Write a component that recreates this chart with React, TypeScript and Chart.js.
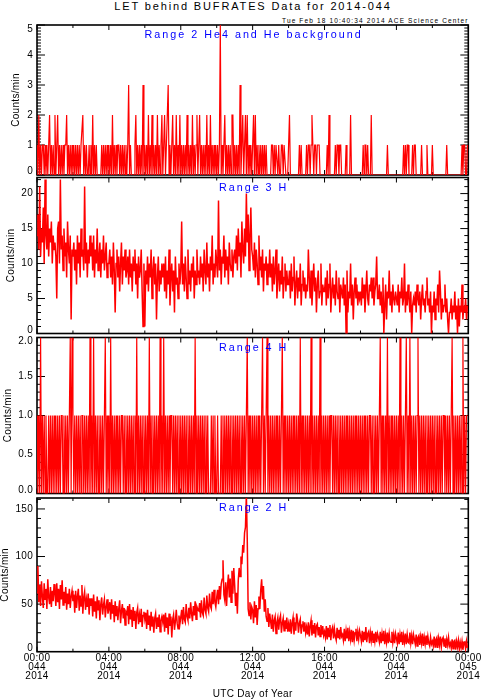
import { useEffect, useRef } from 'react';
import { Chart, registerables } from 'chart.js';

Chart.register(...registerables);

// ---------- data (3-minute samples, 20 per hour, one row per hour) ----------
const SAMPLE_MINUTES = 3;

const X_TICKS = [0, 240, 480, 720, 960, 1200, 1440];
const X_TICK_LABELS = [
  ['00:00', '044', '2014'],
  ['04:00', '044', '2014'],
  ['08:00', '044', '2014'],
  ['12:00', '044', '2014'],
  ['16:00', '044', '2014'],
  ['20:00', '044', '2014'],
  ['00:00', '045', '2014'],
];

const PANEL_LABELS = ['Range 2 He4 and He background', 'Range 3 H', 'Range 4 H', 'Range 2 H'];

const Y_TICKS_HE4 = [0, 1, 2, 3, 4, 5];
const Y_TICKS_R3H = [0, 5, 10, 15, 20];
const Y_TICKS_R4H = [0, 0.5, 1, 1.5, 2];
const Y_TICKS_R2H = [0, 50, 100, 150];

const HE4_BG = [
  1,0,2,0,1,0,1,1,0,1,0,1,0,1,2,0,1,0,1,0,
  2,0,1,2,0,1,0,1,0,1,0,1,1,2,0,1,0,1,0,1,
  0,1,0,1,0,1,0,1,0,1,1,2,0,1,0,1,0,0,1,0,
  1,0,2,0,1,0,1,0,0,0,0,0,1,0,1,0,1,0,1,0,
  1,0,1,0,2,0,1,0,1,0,1,1,0,1,0,1,0,1,0,1,
  0,1,3,0,1,0,0,0,0,1,2,0,1,0,1,0,1,0,3,0,
  1,0,1,0,2,0,1,0,2,0,1,0,1,0,2,0,1,0,1,2,
  0,1,2,0,1,2,3,0,1,0,1,2,0,1,0,2,0,1,0,2,
  0,1,0,1,0,1,0,2,0,1,0,1,0,2,0,1,0,1,2,0,
  1,2,0,1,0,1,0,1,0,2,0,1,0,2,0,1,0,1,0,1,
  0,1,0,1,5,0,1,0,1,2,0,1,0,1,0,1,0,2,2,0,
  1,0,1,0,1,0,3,0,1,2,0,1,2,0,2,0,1,0,1,0,
  1,2,0,2,0,1,0,1,0,1,0,1,0,1,0,1,0,0,0,0,
  0,1,1,0,1,0,1,1,0,1,0,0,1,1,0,1,1,0,0,0,
  1,2,0,0,0,0,0,0,0,0,0,0,1,0,1,0,0,0,0,0,
  1,0,1,1,0,1,2,1,0,1,1,0,1,1,1,0,0,0,0,0,
  0,0,0,1,0,2,0,0,0,0,0,0,1,0,1,1,0,1,1,0,
  0,0,0,0,1,0,0,0,0,2,0,0,0,0,0,0,0,0,0,0,
  0,0,0,1,0,1,1,0,1,0,0,0,2,0,0,0,0,0,0,0,
  0,0,0,0,0,0,0,0,0,0,1,0,0,0,0,0,0,0,0,0,
  0,0,0,0,0,0,0,0,1,0,1,0,1,1,0,0,0,0,1,0,
  1,1,0,0,0,0,0,0,1,0,0,0,0,0,1,0,0,0,0,0,
  1,0,0,0,0,0,0,0,0,0,0,0,0,0,0,0,1,0,0,0,
  0,0,0,0,0,0,0,0,0,0,0,0,0,1,0,1,1,0,0,1,
];

const RANGE3_H = [
  14,17,12,21,11,15,13,18,10,22,14,12,17,11,15,13,16,10,14,12,
  13,11,5,15,16,10,22,12,14,9,15,11,13,8,16,12,10,14,2,12,
  11,13,9,12,7,14,10,13,8,15,11,12,9,21,10,13,8,12,10,14,
  11,13,9,14,8,12,10,15,9,11,13,8,12,10,14,9,11,13,8,10,
  10,12,8,11,7,13,9,3,10,12,8,11,6,10,13,7,11,9,12,8,
  9,11,7,12,8,10,6,11,9,12,7,10,5,11,8,9,12,6,1,10,
  1,9,7,11,6,10,8,12,5,9,11,7,10,2,8,11,6,9,7,10,
  8,10,6,11,5,9,7,12,4,8,10,6,9,3,11,7,8,5,10,7,
  9,16,7,10,6,11,8,5,12,7,9,6,10,8,11,5,9,7,12,8,
  9,7,11,8,10,6,12,9,7,13,8,10,6,11,9,14,7,10,8,12,
  10,8,19,9,12,7,11,10,14,8,12,9,11,7,13,10,9,12,8,11,
  12,10,14,9,15,11,13,8,16,12,10,15,11,20,13,17,9,14,18,12,
  11,9,13,8,12,10,7,14,9,11,8,12,6,10,9,11,7,10,8,12,
  8,10,6,11,7,9,12,5,8,10,6,9,7,11,5,8,10,6,9,7,
  7,9,5,10,6,8,11,4,7,9,5,8,6,10,4,7,9,6,8,5,
  7,6,12,8,5,9,4,7,10,6,8,3,7,9,5,6,10,4,7,6,
  6,8,4,9,5,7,10,3,6,8,5,7,4,9,6,5,8,3,7,6,
  5,8,4,7,0,9,3,6,5,10,4,7,2,6,8,5,7,4,6,5,
  6,4,8,5,7,3,6,9,5,4,7,6,8,5,8,4,6,7,11,5,
  5,7,4,6,3,8,0,4,7,2,6,5,9,4,6,3,7,5,4,6,
  5,4,7,3,6,5,8,4,5,10,3,6,4,7,5,3,6,0,4,5,
  4,6,3,7,5,4,6,2,5,7,4,5,3,6,8,4,5,3,6,0,
  4,3,6,2,5,4,7,3,9,6,2,5,3,4,7,3,5,2,0,3,
  3,5,2,4,3,6,2,4,0,5,1,4,3,7,2,4,3,5,2,4,
];

const RANGE4_H = [
  1,0,1,0,2,0,1,0,1,0,1,0,0,1,0,1,0,1,0,1,
  0,1,0,1,0,1,0,1,1,0,1,0,1,0,1,0,1,2,0,2,
  1,0,1,0,1,0,1,0,1,0,1,1,0,1,0,1,0,1,0,2,
  0,1,0,2,0,1,0,1,0,1,0,1,0,1,0,1,2,0,1,0,
  1,0,2,0,1,0,1,0,1,0,1,0,1,0,1,1,0,1,0,1,
  0,1,0,1,0,1,0,1,0,1,0,2,0,1,0,1,0,1,0,1,
  0,1,0,1,0,2,0,1,0,1,0,1,0,1,0,1,0,2,0,1,
  0,2,0,1,0,1,0,1,0,1,1,0,1,0,1,0,1,0,1,0,
  1,0,1,0,1,0,1,0,1,0,1,0,1,0,1,0,2,0,1,0,
  1,0,1,0,1,0,1,0,1,0,1,0,0,0,1,0,1,0,1,0,
  0,1,0,0,0,1,0,1,0,1,0,1,0,1,0,1,0,1,0,1,
  0,1,0,1,0,1,0,1,0,1,0,1,0,1,2,0,1,0,1,0,
  1,0,1,0,1,0,1,0,1,0,1,2,0,1,0,1,2,0,1,0,
  1,0,1,0,1,0,1,0,1,0,1,0,1,2,0,1,0,1,0,1,
  0,1,0,1,0,1,0,1,0,1,0,1,0,2,0,1,0,1,0,1,
  0,1,0,1,0,2,0,1,0,1,0,1,0,1,0,2,0,1,0,1,
  0,1,0,1,0,1,0,1,1,0,1,0,1,0,1,0,1,0,1,0,
  1,0,1,0,1,0,1,0,1,0,1,0,1,0,1,0,1,0,1,0,
  1,0,1,0,1,0,1,0,1,0,1,1,0,1,0,1,0,1,0,1,
  0,1,2,0,1,0,1,0,1,0,2,0,1,0,1,0,1,0,1,0,
  1,0,1,0,2,0,1,0,1,0,1,2,0,1,0,2,0,1,0,1,
  0,1,0,1,2,0,1,0,1,0,1,0,1,0,1,0,1,0,1,0,
  1,0,1,0,1,0,1,0,1,0,1,0,1,1,0,1,0,1,0,1,
  0,1,2,0,1,0,1,0,1,0,1,0,1,0,2,0,1,0,1,1,
];

const RANGE2_H = [
  62,90,52,70,48,74,58,46,72,55,66,45,76,57,50,68,47,64,53,71,
  61,48,72,52,66,45,70,55,75,49,63,51,68,44,61,50,66,46,58,64,
  53,60,41,64,46,58,66,43,59,48,70,40,57,63,44,55,47,61,39,56,
  48,56,37,60,42,53,35,58,44,54,33,50,57,39,49,55,36,47,55,40,
  45,52,34,55,40,49,31,53,38,48,33,45,54,30,43,50,35,46,28,42,
  40,48,29,50,34,44,26,47,33,43,24,41,46,29,39,31,45,26,38,42,
  34,41,24,44,28,38,22,42,27,37,20,35,40,24,36,26,39,21,33,37,
  31,39,21,41,25,36,18,40,27,37,15,34,39,23,32,44,30,24,38,29,
  36,44,29,47,34,31,50,37,33,46,35,52,40,32,48,38,53,34,47,44,
  43,51,36,54,41,38,57,44,40,59,46,42,61,48,45,63,50,65,52,47,
  57,65,50,69,55,71,76,96,60,54,73,48,69,81,57,77,52,85,61,88,
  70,48,62,40,75,88,79,100,92,112,104,125,131,165,118,45,38,52,34,47,
  44,30,53,36,49,28,45,58,45,65,76,55,69,42,55,37,32,46,26,40,
  32,24,39,21,33,37,19,31,36,23,34,38,20,30,35,22,33,24,36,21,
  29,21,34,19,30,36,18,31,22,40,33,20,30,34,19,28,32,21,31,20,
  26,18,31,16,27,33,17,28,19,30,15,27,29,17,26,16,28,18,27,17,
  21,15,27,13,25,16,28,12,23,26,14,24,16,12,25,15,23,13,26,16,
  18,12,24,11,22,14,25,11,21,13,23,10,22,12,20,24,11,21,13,22,
  17,11,22,10,21,12,26,10,19,21,9,20,12,22,10,19,11,21,10,19,
  15,10,21,9,19,11,22,8,18,10,20,9,19,11,10,21,10,18,9,19,
  14,9,20,8,18,10,21,7,17,10,19,8,18,10,9,20,9,17,8,18,
  13,8,18,6,15,17,7,16,9,19,6,15,8,17,7,16,9,6,15,8,
  11,6,16,5,13,15,4,14,7,16,5,13,15,6,14,4,13,7,15,6,
  9,4,13,3,11,12,2,11,5,12,3,10,4,11,2,9,10,3,11,4,
];

// ---------- layout / style ----------
const FONT = "'Liberation Sans', Arial, sans-serif";
const PLOT_LEFT = 37;
const PLOT_RIGHT = 468.3;
const PAGE_W = 481;
const PAGE_H = 700;

type PanelCfg = {
  label: string;
  data: number[];
  yMax: number;
  yTicks: number[];
  yMinor: number;
  decimals: number;
  top: number;
  bottom: number;
  titleX: number;
  lineWidth: number;
};

const PANELS: PanelCfg[] = [
  { label: PANEL_LABELS[0], data: HE4_BG, yMax: 5, yTicks: Y_TICKS_HE4, yMinor: 0.1, decimals: 0, top: 25, bottom: 175, titleX: 16, lineWidth: 1.2 },
  { label: PANEL_LABELS[1], data: RANGE3_H, yMax: 22.3, yTicks: Y_TICKS_R3H, yMinor: 1, decimals: 0, top: 177.5, bottom: 333.5, titleX: 11.7, lineWidth: 1.5 },
  { label: PANEL_LABELS[2], data: RANGE4_H, yMax: 2, yTicks: Y_TICKS_R4H, yMinor: 0.1, decimals: 1, top: 337.5, bottom: 493.5, titleX: 8, lineWidth: 1.2 },
  { label: PANEL_LABELS[3], data: RANGE2_H, yMax: 161.5, yTicks: Y_TICKS_R2H, yMinor: 10, decimals: 0, top: 498, bottom: 651.7, titleX: 5, lineWidth: 1.5 },
];

const framePlugin = {
  id: 'idlFrame',
  beforeDraw(chart: any) {
    chart.ctx.letterSpacing = '0.3px';
  },
  beforeDatasetsDraw(chart: any, _args: any, opts: any) {
    const { ctx, chartArea: a, scales } = chart;
    const xs = scales.x;
    const ys = scales.y;
    ctx.save();
    ctx.strokeStyle = '#000';
    ctx.lineWidth = 1.6;
    ctx.strokeRect(a.left, a.top, a.right - a.left, a.bottom - a.top);
    ctx.lineWidth = 1;
    ctx.beginPath();
    const yMax = ys.max;
    for (let i = 0; i * opts.yMinor <= yMax + 1e-9; i++) {
      const v = i * opts.yMinor;
      const major = opts.yTicks.some((t: number) => Math.abs(t - v) < 1e-6);
      const len = major ? 8 : 4;
      const py = ys.getPixelForValue(v);
      ctx.moveTo(a.left, py);
      ctx.lineTo(a.left + len, py);
      ctx.moveTo(a.right, py);
      ctx.lineTo(a.right - len, py);
    }
    for (let m = 0; m <= 1440; m += 120) {
      const major = X_TICKS.includes(m);
      const len = major ? 5 : 3;
      const px = xs.getPixelForValue(m);
      ctx.moveTo(px, a.bottom);
      ctx.lineTo(px, a.bottom - len);
      ctx.moveTo(px, a.top);
      ctx.lineTo(px, a.top + len);
    }
    ctx.stroke();
    ctx.restore();
  },
  afterDatasetsDraw(chart: any, _args: any, opts: any) {
    const { ctx, chartArea: a } = chart;
    ctx.save();
    ctx.fillStyle = 'rgb(0,0,255)';
    ctx.font = `10.75px ${FONT}`;
    ctx.letterSpacing = '2px';
    ctx.textAlign = 'center';
    ctx.textBaseline = 'alphabetic';
    ctx.fillText(opts.label, (a.left + a.right) / 2 + 1, a.top + 13);
    ctx.restore();
  },
};

function Panel({ cfg, isLast }: { cfg: PanelCfg; isLast: boolean }) {
  const ref = useRef<HTMLCanvasElement>(null);
  const canvasTop = Math.floor(cfg.top) - 10;
  const height = isLast ? PAGE_H - canvasTop : Math.ceil(cfg.bottom) + 10 - canvasTop;

  useEffect(() => {
    if (!ref.current) return;
    const tickFont = { family: FONT, size: 10, lineHeight: 0.93 };
    const chart = new Chart(ref.current, {
      type: 'line',
      data: {
        datasets: [
          {
            data: cfg.data.map((v, i) => ({ x: i * SAMPLE_MINUTES, y: v })),
            borderColor: 'rgb(255,0,0)',
            borderWidth: cfg.lineWidth,
            pointRadius: 0,
            tension: 0,
            fill: false,
          },
        ],
      },
      options: {
        animation: false,
        responsive: false,
        maintainAspectRatio: false,
        events: [],
        layout: {
          padding: {
            top: cfg.top - canvasTop,
            bottom: isLast ? 0 : height - (cfg.bottom - canvasTop),
            left: 0,
            right: PAGE_W - PLOT_RIGHT,
          },
        },
        plugins: {
          legend: { display: false },
          tooltip: { enabled: false },
          idlFrame: { label: cfg.label, yMinor: cfg.yMinor, yTicks: cfg.yTicks },
        } as any,
        scales: {
          x: {
            type: 'linear',
            min: 0,
            max: 1440,
            display: isLast,
            afterBuildTicks: (s: any) => {
              s.ticks = X_TICKS.map((v) => ({ value: v }));
            },
            ticks: {
              autoSkip: false,
              maxRotation: 0,
              minRotation: 0,
              padding: 1.5,
              color: '#000',
              font: tickFont,
              callback: (_v: any, i: number) => X_TICK_LABELS[i],
            },
            grid: { display: false, drawTicks: false },
            border: { display: false },
            title: {
              display: true,
              text: 'UTC Day of Year',
              color: '#000',
              font: { family: FONT, size: 10, lineHeight: 1.2 },
              padding: { top: 0, bottom: 0 },
            },
            afterFit: (s: any) => {
              s.height = isLast ? PAGE_H - cfg.bottom : 0;
              s.paddingLeft = 0;
              s.paddingRight = 0;
            },
          },
          y: {
            type: 'linear',
            min: 0,
            max: cfg.yMax,
            afterBuildTicks: (s: any) => {
              s.ticks = cfg.yTicks.map((v) => ({ value: v }));
            },
            ticks: {
              padding: 4,
              color: '#000',
              font: { family: FONT, size: 10, lineHeight: 0.75 },
              // edge labels are nudged inside the panel (blank line above/below)
              callback: (v: any) => {
                const n = Number(v);
                const s = n.toFixed(cfg.decimals);
                if (Math.abs(n) < 1e-9) return [s, ''];
                if (Math.abs(n - cfg.yMax) < 1e-9) return ['', s];
                return s;
              },
            },
            grid: { display: false, drawTicks: false },
            border: { display: false },
            title: {
              display: true,
              text: 'Counts/min',
              color: '#000',
              font: { family: FONT, size: 10, lineHeight: 1 },
              padding: { top: cfg.titleX - 5, bottom: 0 },
            },
            afterFit: (s: any) => {
              s.width = PLOT_LEFT;
              s.paddingTop = 0;
              s.paddingBottom = 0;
            },
          },
        },
      } as any,
      plugins: [framePlugin as any],
    });
    return () => chart.destroy();
  }, []);

  return (
    <canvas
      ref={ref}
      width={PAGE_W}
      height={height}
      style={{ position: 'absolute', left: 0, top: canvasTop, width: PAGE_W, height }}
    />
  );
}

export default function App() {
  return (
    <div
      style={{
        position: 'absolute',
        left: 0,
        top: 0,
        width: PAGE_W,
        height: PAGE_H,
        background: '#fff',
        overflow: 'hidden',
        fontFamily: FONT,
      }}
    >
      <div
        style={{
          position: 'absolute',
          left: 0,
          top: 0.7,
          width: 506,
          textAlign: 'center',
          fontSize: 11,
          lineHeight: '11px',
          letterSpacing: '1.86px',
          whiteSpace: 'nowrap',
          color: '#000',
        }}
      >
        LET behind BUFRATES Data for 2014-044
      </div>
      <div
        style={{
          position: 'absolute',
          right: 12.5,
          top: 17,
          fontSize: 6.5,
          lineHeight: '7px',
          letterSpacing: '1.14px',
          whiteSpace: 'nowrap',
          color: '#000',
        }}
      >
        Tue Feb 18 10:40:34 2014 ACE Science Center
      </div>
      {PANELS.map((p, i) => (
        <Panel key={i} cfg={p} isLast={i === PANELS.length - 1} />
      ))}
    </div>
  );
}
